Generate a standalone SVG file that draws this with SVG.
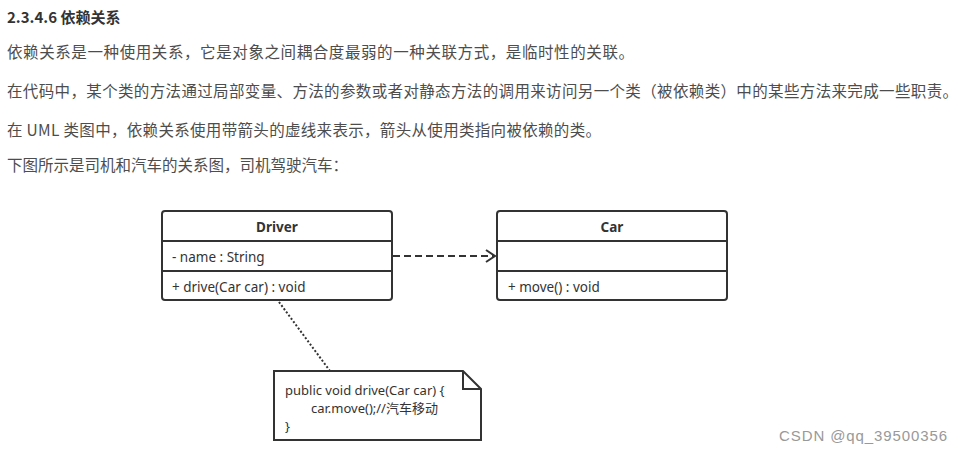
<svg xmlns="http://www.w3.org/2000/svg" width="963" height="454" viewBox="0 0 963 454">
<style>
.cn{font-family:"Microsoft YaHei","Noto Sans CJK SC","Noto Sans",sans-serif;font-size:15.5px;fill:#4d4d4d}
.h{font-family:"Noto Sans CJK SC","Noto Sans",sans-serif;font-size:15px;font-weight:bold;fill:#333}
.box{fill:#fff;stroke:#333;stroke-width:2}
.ln{stroke:#333;stroke-width:2;fill:none}
.t{font-family:"Noto Sans","Noto Sans CJK SC",sans-serif;font-size:13.5px;fill:#333}
.n{font-family:"Noto Sans","Noto Sans CJK SC",sans-serif;font-size:13px;fill:#333}
.b{font-weight:bold;text-anchor:middle}
.wm{font-family:"Liberation Sans",Arial,sans-serif;font-size:15px;fill:#999}
</style>
<defs>
<marker id="open" markerWidth="12" markerHeight="14" refX="10" refY="7" orient="auto" markerUnits="userSpaceOnUse">
<path d="M1,1 L10,7 L1,13" fill="none" stroke="#333" stroke-width="2"/>
</marker>
</defs>
<rect width="963" height="454" fill="#fff"/>
<text class="h" x="7" y="23">2.3.4.6 依赖关系</text>
<text class="cn" x="7" y="58" textLength="627">依赖关系是一种使用关系，它是对象之间耦合度最弱的一种关联方式，是临时性的关联。</text>
<text class="cn" x="7" y="97" textLength="951">在代码中，某个类的方法通过局部变量、方法的参数或者对静态方法的调用来访问另一个类（被依赖类）中的某些方法来完成一些职责。</text>
<text class="cn" x="7" y="136" textLength="594">在 UML 类图中，依赖关系使用带箭头的虚线来表示，箭头从使用类指向被依赖的类。</text>
<text class="cn" x="7" y="171" textLength="341">下图所示是司机和汽车的关系图，司机驾驶汽车：</text>

<g id="connectors">
<line class="ln" x1="393" y1="256" x2="495" y2="256" stroke-dasharray="7,4" marker-end="url(#open)"/>
<line class="ln" x1="279" y1="302" x2="330" y2="371" stroke-dasharray="2,2"/>
</g>

<g id="driver">
<rect class="box" x="162" y="211" width="230" height="89" rx="3"/>
<line class="ln" x1="162" y1="241" x2="392" y2="241"/>
<line class="ln" x1="162" y1="271" x2="392" y2="271"/>
<text class="t b" x="277" y="232">Driver</text>
<text class="t" x="172" y="262">- name : String</text>
<text class="t" x="172" y="292">+ drive(Car car) : void</text>
</g>

<g id="car">
<rect class="box" x="497" y="211" width="230" height="89" rx="3"/>
<line class="ln" x1="497" y1="241" x2="727" y2="241"/>
<line class="ln" x1="497" y1="271" x2="727" y2="271"/>
<text class="t b" x="612" y="232">Car</text>
<text class="t" x="508" y="292">+ move() : void</text>
</g>

<g id="note">
<path class="box" d="M274,371 H463 L481,389 V440 H274 Z"/>
<path class="ln" d="M463,371 V389 H481"/>
<text class="n" x="285" y="395">public void drive(Car car) {</text>
<text class="n" x="311" y="413">car.move();//汽车移动</text>
<text class="n" x="285" y="431">}</text>
</g>

<text class="wm" x="779" y="441" textLength="168">CSDN @qq_39500356</text>
</svg>
